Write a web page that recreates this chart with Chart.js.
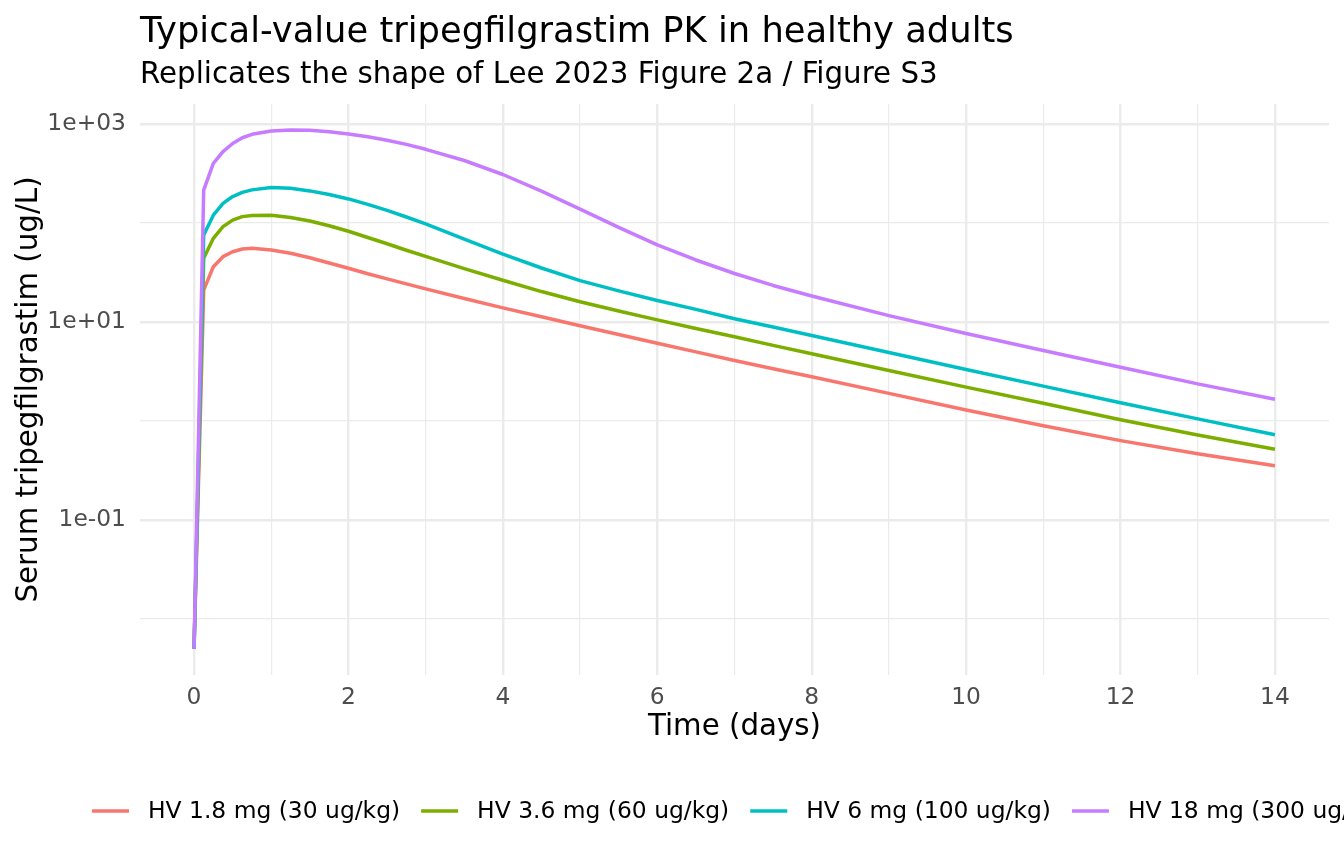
<!DOCTYPE html>
<html>
<head>
<meta charset="utf-8">
<script src="https://cdn.jsdelivr.net/npm/chart.js@4.4.1/dist/chart.umd.min.js"></script>
<style>
  html, body { margin: 0; padding: 0; background: #ffffff; }
  canvas { display: block; }
</style>
</head>
<body>
<canvas id="pkChart" width="1344" height="864"></canvas>
<script>
// time grid (days) and typical-value concentrations (ug/L)
const timeDays = [0, 0.125, 0.25, 0.375, 0.5, 0.625, 0.75, 1, 1.25, 1.5, 1.75, 2, 2.25, 2.5, 2.75, 3, 3.5, 4, 4.5, 5, 5.5, 6, 6.5, 7, 7.5, 8, 9, 10, 11, 12, 13, 14];
const conc30 = [0.005, 21, 36.2, 45.7, 51.2, 54.6, 55.5, 53.3, 49.4, 44.6, 39.5, 34.9, 30.7, 27.3, 24.3, 21.6, 17.3, 13.9, 11.3, 9.18, 7.48, 6.11, 4.99, 4.08, 3.37, 2.8, 1.9, 1.29, 0.895, 0.634, 0.467, 0.354];
const conc60 = [0.005, 44, 70, 91.8, 107, 116, 118.9, 119.7, 113.7, 104.8, 93.7, 82.5, 71.4, 61.7, 53.1, 46, 34.6, 26.4, 20.3, 16, 12.9, 10.5, 8.59, 7.1, 5.81, 4.78, 3.24, 2.2, 1.51, 1.03, 0.722, 0.518];
const conc100 = [0.005, 75.7, 120, 158, 185, 204, 216, 228.6, 224, 211, 194, 175, 154, 134, 115, 97.8, 68.9, 48.6, 35.1, 26.2, 20.6, 16.5, 13.4, 10.8, 8.9, 7.3, 4.92, 3.31, 2.25, 1.53, 1.05, 0.727];
const conc300 = [0.005, 215, 401, 527, 635, 726, 787, 850, 870, 863, 834, 792, 743, 686, 622, 555, 428, 309, 210, 138, 90.2, 60, 42.3, 30.9, 23.4, 18.3, 11.6, 7.66, 5.15, 3.49, 2.37, 1.66];

const seriesLabels = ["HV 1.8 mg (30 ug/kg)", "HV 3.6 mg (60 ug/kg)", "HV 6 mg (100 ug/kg)", "HV 18 mg (300 ug/kg)"];
const seriesColors = ["#F8766D", "#7CAE00", "#00BFC4", "#C77CFF"];

const xTicks = [0, 1, 2, 3, 4, 5, 6, 7, 8, 9, 10, 11, 12, 13, 14];
const xMajor = [0, 2, 4, 6, 8, 10, 12, 14];
const yTicks = [0.01, 0.1, 1, 10, 100, 1000];
const yMajorLabels = { 0.1: "1e-01", 10: "1e+01", 1000: "1e+03" };

const FONT = '"DejaVu Sans", sans-serif';
const GRID = "#EBEBEB";

const allSeries = [conc30, conc60, conc100, conc300];
const datasets = allSeries.map((vals, i) => ({
    label: seriesLabels[i],
    data: vals.map((v, j) => ({ x: timeDays[j], y: v })),
    borderColor: seriesColors[i],
    backgroundColor: seriesColors[i],
    borderWidth: 3.5,
    borderJoinStyle: "round",
    pointRadius: 0,
    tension: 0,
    order: allSeries.length - i, // last series drawn on top, like ggplot
}));

// title, subtitle and bottom legend drawn the ggplot way
const decorations = {
    id: "decorations",
    afterDraw(chart) {
        const ctx = chart.ctx;
        const left = chart.chartArea.left;
        ctx.save();
        ctx.fillStyle = "#000000";
        ctx.textAlign = "left";
        ctx.textBaseline = "alphabetic";
        ctx.font = "35.3px " + FONT;
        ctx.fillText("Typical-value tripegfilgrastim PK in healthy adults", left, 42);
        ctx.font = "29.3px " + FONT;
        ctx.fillText("Replicates the shape of Lee 2023 Figure 2a / Figure S3", left, 83);

        // legend
        ctx.font = "23.4px " + FONT;
        ctx.textBaseline = "middle";
        let x = 92;
        const y = 812;
        seriesLabels.forEach((lab, i) => {
            ctx.strokeStyle = seriesColors[i];
            ctx.lineWidth = 3.5;
            ctx.beginPath();
            ctx.moveTo(x, y - 1);
            ctx.lineTo(x + 37, y - 1);
            ctx.stroke();
            ctx.fillStyle = "#000000";
            ctx.fillText(lab, x + 56, y);
            x += 56 + ctx.measureText(lab).width + 21;
        });
        ctx.restore();
    }
};

const ctx = document.getElementById("pkChart").getContext("2d");
const pkChart = new Chart(ctx, {
    type: "line",
    data: { datasets: datasets },
    options: {
        responsive: false,
        animation: false,
        devicePixelRatio: 1,
        layout: { padding: { top: 104, right: 15, bottom: 119, left: 0 } },
        plugins: {
            legend: { display: false },
            tooltip: { enabled: false },
        },
        scales: {
            x: {
                type: "linear",
                min: -0.7,
                max: 14.7,
                afterBuildTicks: (scale) => { scale.ticks = xTicks.map(v => ({ value: v })); },
                afterFit: (scale) => {
                    scale.height = 70;
                    scale.paddingLeft = 0; scale.paddingRight = 0;
                },
                border: { display: false },
                grid: {
                    color: GRID,
                    drawTicks: false,
                    lineWidth: (c) => xMajor.includes(c.tick && c.tick.value) ? 2.4 : 1.2,
                },
                ticks: {
                    autoSkip: false,
                    maxRotation: 0,
                    padding: 9,
                    color: "#4D4D4D",
                    font: { family: FONT, size: 23.4 },
                    callback: (v) => xMajor.includes(v) ? String(v) : "",
                },
                title: {
                    display: true,
                    text: "Time (days)",
                    color: "#000000",
                    font: { family: FONT, size: 29.3 },
                    padding: { top: 0, bottom: 0 },
                },
            },
            y: {
                type: "logarithmic",
                min: 0.00272,
                max: 1592,
                afterBuildTicks: (scale) => { scale.ticks = yTicks.map(v => ({ value: v })); },
                afterFit: (scale) => {
                    scale.width = 140;
                    scale.paddingTop = 0; scale.paddingBottom = 0;
                },
                border: { display: false },
                grid: {
                    color: GRID,
                    drawTicks: false,
                    lineWidth: (c) => (c.tick && yMajorLabels[c.tick.value]) ? 2.4 : 1.2,
                },
                ticks: {
                    autoSkip: false,
                    padding: 14,
                    color: "#4D4D4D",
                    font: { family: FONT, size: 23.4 },
                    callback: (v) => yMajorLabels[v] || "",
                },
                title: {
                    display: true,
                    text: "Serum tripegfilgrastim (ug/L)",
                    color: "#000000",
                    font: { family: FONT, size: 29.3 },
                    padding: { top: 12, bottom: 0 },
                },
            },
        },
    },
    plugins: [decorations],
});
</script>
</body>
</html>
